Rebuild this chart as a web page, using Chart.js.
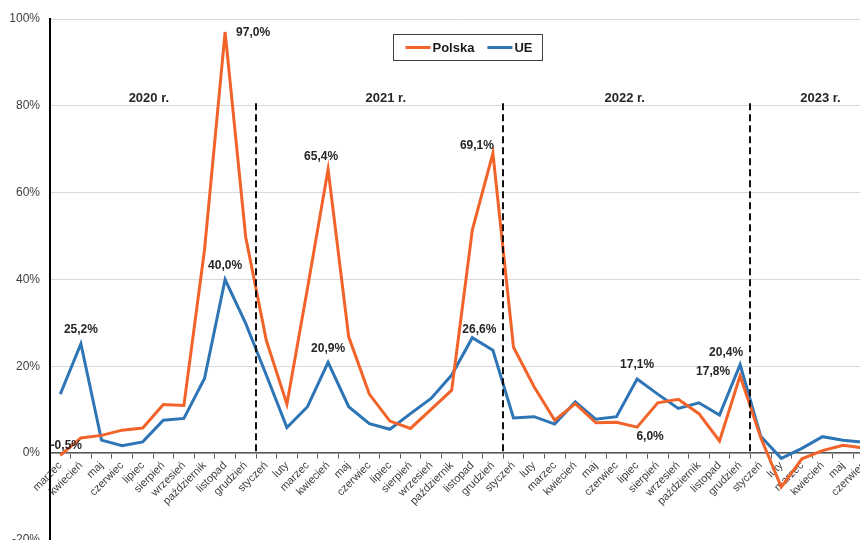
<!DOCTYPE html>
<html lang="pl">
<head>
<meta charset="utf-8">
<title>Polska / UE</title>
<script src="https://cdn.jsdelivr.net/npm/chart.js@4/dist/chart.umd.min.js"></script>
<style>
    html, body { margin: 0; padding: 0; overflow: hidden; background: #fff; }
    canvas { display: block; }
</style>
</head>
<body>
<canvas id="chart" width="880" height="560"></canvas>
<script>
// months from March 2020 to June 2023
const months = [
    'marzec', 'kwiecień', 'maj', 'czerwiec', 'lipiec', 'sierpień', 'wrzesień', 'październik', 'listopad', 'grudzień',
    'styczeń', 'luty', 'marzec', 'kwiecień', 'maj', 'czerwiec', 'lipiec', 'sierpień', 'wrzesień', 'październik', 'listopad', 'grudzień',
    'styczeń', 'luty', 'marzec', 'kwiecień', 'maj', 'czerwiec', 'lipiec', 'sierpień', 'wrzesień', 'październik', 'listopad', 'grudzień',
    'styczeń', 'luty', 'marzec', 'kwiecień', 'maj', 'czerwiec'
];

const polska = [
    -0.5, 3.5, 4.1, 5.3, 5.8, 11.2, 11.0, 46.8, 97.0, 49.8,
    26.0, 11.3, 38.0, 65.4, 26.8, 13.6, 7.4, 5.7, 10.1, 14.5, 51.4, 69.1,
    24.4, 15.3, 7.6, 11.4, 7.0, 7.1, 6.0, 11.6, 12.4, 9.1, 2.8, 17.8,
    3.6, -7.8, -1.3, 0.6, 1.8, 1.2
];

const ue = [
    13.6, 25.2, 3.0, 1.7, 2.6, 7.6, 8.0, 17.2, 40.0, 29.9,
    18.0, 5.9, 10.7, 20.9, 10.7, 6.8, 5.5, 9.1, 12.6, 18.0, 26.6, 23.7,
    8.1, 8.4, 6.7, 11.8, 7.8, 8.4, 17.1, 13.6, 10.3, 11.6, 8.8, 20.4,
    3.9, -1.2, 1.1, 3.8, 3.0, 2.5
];

const yTicks = [-20, 0, 20, 40, 60, 80, 100];

// year captions and the dashed lines between years
const years = ['2020 r.', '2021 r.', '2022 r.', '2023 r.'];
const yearBreaks = [9.5, 21.5, 33.5];

// which points get a value label (dataset, index, offset of the text)
const valueLabels = [
    { ds: 0, i: 0, dx: 6, dy: -10 },
    { ds: 1, i: 1, dx: 0, dy: -14 },
    { ds: 0, i: 8, dx: 28, dy: 1 },
    { ds: 1, i: 8, dx: 0, dy: -14 },
    { ds: 0, i: 13, dx: -7, dy: -13 },
    { ds: 1, i: 13, dx: 0, dy: -14 },
    { ds: 0, i: 21, dx: -16, dy: -7 },
    { ds: 1, i: 20, dx: 7, dy: -8 },
    { ds: 1, i: 28, dx: 0, dy: -14 },
    { ds: 0, i: 28, dx: 13, dy: 10 },
    { ds: 1, i: 33, dx: -14, dy: -12 },
    { ds: 0, i: 33, dx: -27, dy: -4 }
];

const FONT = '"Liberation Sans", Arial, sans-serif';
const ORANGE = '#f2632a';
const BLUE = '#2e75b6';

const fmt = v => v.toFixed(1).replace('.', ',') + '%';

// extra drawing: year separators, captions, value labels and the boxed legend
const extras = {
    id: 'extras',
    afterDatasetsDraw(chart) {
        const ctx = chart.ctx;
        const x = chart.scales.x;
        const y = chart.scales.y;
        ctx.save();

        // dashed separators
        ctx.strokeStyle = '#111';
        ctx.lineWidth = 2;
        ctx.setLineDash([7, 4]);
        yearBreaks.forEach(b => {
            const px = Math.round(x.getPixelForValue(b));
            ctx.beginPath();
            ctx.moveTo(px, y.getPixelForValue(80.6));
            ctx.lineTo(px, y.getPixelForValue(0));
            ctx.stroke();
        });
        ctx.setLineDash([]);

        // year captions
        const yearPos = [4.3, 15.8, 27.4, 36.9];
        ctx.fillStyle = '#262626';
        ctx.font = 'bold 13px ' + FONT;
        ctx.textAlign = 'center';
        ctx.textBaseline = 'middle';
        years.forEach((t, k) => {
            ctx.fillText(t, x.getPixelForValue(yearPos[k]), y.getPixelForValue(81.6));
        });

        // value labels
        ctx.font = 'bold 12px ' + FONT;
        valueLabels.forEach(l => {
            const pt = chart.getDatasetMeta(l.ds).data[l.i];
            const v = chart.data.datasets[l.ds].data[l.i];
            ctx.fillText(fmt(v), pt.x + l.dx, pt.y + l.dy);
        });

        // legend box
        ctx.font = 'bold 13px ' + FONT;
        ctx.textAlign = 'left';
        const sets = chart.data.datasets;
        const lineLen = 25, gap = 2, itemGap = 13, padL = 12, padR = 10;
        let w = padL + padR;
        sets.forEach((d, k) => {
            w += lineLen + gap + ctx.measureText(d.label).width + (k ? itemGap : 0);
        });
        const h = 26;
        const left = Math.round(467 - w / 2) + 0.5;
        const top = 34.5;
        ctx.fillStyle = '#fff';
        ctx.fillRect(left, top, w, h);
        ctx.strokeStyle = '#404040';
        ctx.lineWidth = 1;
        ctx.strokeRect(left, top, w, h);
        let cx = left + padL;
        const cy = top + h / 2;
        sets.forEach((d, k) => {
            if (k) cx += itemGap;
            ctx.strokeStyle = d.borderColor;
            ctx.lineWidth = 3;
            ctx.beginPath();
            ctx.moveTo(cx, cy);
            ctx.lineTo(cx + lineLen, cy);
            ctx.stroke();
            cx += lineLen + gap;
            ctx.fillStyle = '#1a1a1a';
            ctx.fillText(d.label, cx, cy + 1);
            cx += ctx.measureText(d.label).width;
        });

        ctx.restore();
    }
};

new Chart(document.getElementById('chart'), {
    type: 'line',
    data: {
        labels: months,
        datasets: [
            {
                label: 'Polska',
                data: polska,
                borderColor: ORANGE,
                backgroundColor: ORANGE,
                borderWidth: 3,
                pointRadius: 0,
                tension: 0
            },
            {
                label: 'UE',
                data: ue,
                borderColor: BLUE,
                backgroundColor: BLUE,
                borderWidth: 3,
                pointRadius: 0,
                tension: 0
            }
        ]
    },
    options: {
        responsive: false,
        animation: false,
        events: [],
        layout: { padding: { top: 19, right: 6, bottom: 20, left: 0 } },
        plugins: {
            legend: { display: false },
            tooltip: { enabled: false }
        },
        scales: {
            x: {
                position: { y: 0 },
                offset: true,
                grid: {
                    offset: true,
                    drawOnChartArea: false,
                    drawTicks: true,
                    tickLength: 5,
                    color: '#595959'
                },
                border: { color: '#595959', width: 1.5 },
                ticks: {
                    autoSkip: false,
                    maxRotation: 45,
                    minRotation: 45,
                    padding: 1,
                    color: '#404040',
                    font: { family: FONT, size: 11 }
                }
            },
            y: {
                min: yTicks[0],
                max: yTicks[yTicks.length - 1],
                afterBuildTicks: s => { s.ticks = yTicks.map(v => ({ value: v })); },
                afterFit: s => { s.width = 50; },
                grid: { color: '#d9d9d9', drawTicks: false },
                border: { color: '#000', width: 2 },
                ticks: {
                    padding: 10,
                    color: '#404040',
                    font: { family: FONT, size: 12 },
                    callback: v => v + '%'
                }
            }
        }
    },
    plugins: [extras]
});
</script>
</body>
</html>
